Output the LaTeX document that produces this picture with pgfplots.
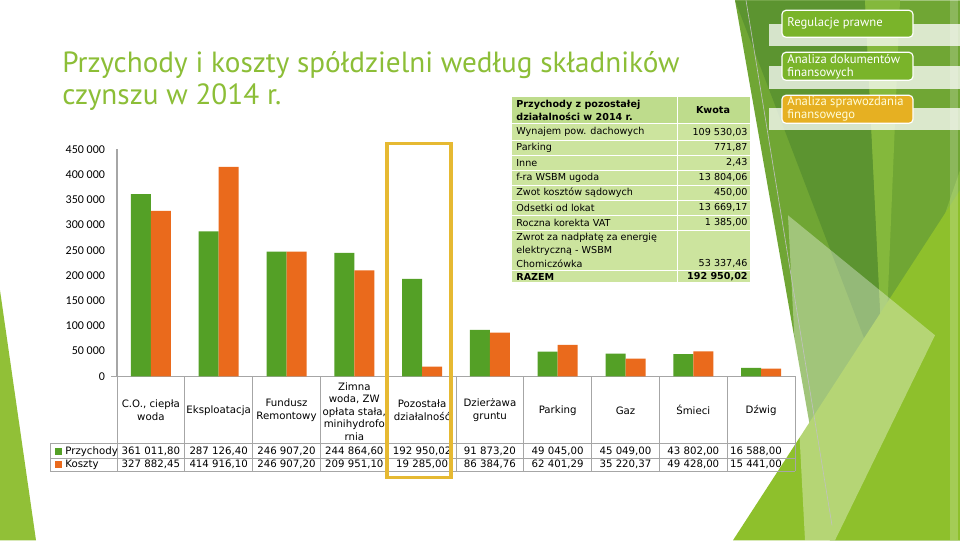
\documentclass[border=0pt]{standalone}
\usepackage{pgfplots}
\pgfplotsset{compat=1.18}
\usepackage{fontspec}
\setmainfont{DejaVu Sans}
\newfontfamily\titlefont{PT Sans}
\newfontfamily\tickfont{Carlito}
\definecolor{gbar}{RGB}{84,160,38}
\definecolor{obar}{RGB}{234,106,28}
\definecolor{ttl}{RGB}{140,190,55}
\definecolor{linec}{RGB}{166,166,166}
\definecolor{gold}{RGB}{230,185,50}
\definecolor{tabg}{RGB}{204,228,158}
\definecolor{tabh}{RGB}{190,220,140}
\definecolor{gD}{RGB}{92,148,48}
\definecolor{gM}{RGB}{112,166,52}
\definecolor{gL}{RGB}{132,184,60}
\definecolor{gB}{RGB}{142,192,44}
\definecolor{gLeft}{RGB}{145,192,55}
\definecolor{boxg}{RGB}{122,180,42}
\definecolor{boxo}{RGB}{230,176,34}
\begin{document}
\begin{tikzpicture}
\begin{scope}[x=0.5pt,y=-0.5pt,shift={(0pt,270pt)}]
\fill[white] (0,0) rectangle (960,540);
% left decoration
\fill[gLeft] (0,290) -- (36,540) -- (0,540) -- cycle;
% right decoration
\fill[gM] (735,0) -- (960,0) -- (960,540) -- (830,540) -- cycle;
\fill[gD] (735,0) -- (865,0) -- (884,390) -- cycle;
\fill[gL] (865,0) -- (900,0) -- (884,390) -- cycle;
\fill[gL] (884,390) -- (960,170) -- (960,540) -- cycle;
\fill[gB] (733,540) -- (960,190) -- (960,540) -- cycle;
\fill[white,opacity=0.35] (788,215) -- (935,335) -- (835,540) -- (805,540) -- cycle;
\fill[white,opacity=0.2] (950,0) -- (958,0) -- (958,540) -- (950,540) -- cycle;
\draw[linec!70,line width=0.3pt] (746,0) -- (832,525);
% title
\node[anchor=base west,inner sep=0pt,text=ttl,font=\titlefont\fontsize{14.6}{18}\selectfont] at (62,72) {Przychody i koszty spółdzielni według składników};
\node[anchor=base west,inner sep=0pt,text=ttl,font=\titlefont\fontsize{14.6}{18}\selectfont] at (62,104) {czynszu w 2014 r.};
\end{scope}

\begin{axis}[at={(58.5pt,82pt)},anchor=south west,scale only axis,
  width=339pt,height=113.5pt,
  xmin=-0.5,xmax=9.5,ymin=0,ymax=450000,
  ybar=0pt,bar width=10pt,clip=false,
  axis x line*=bottom,axis y line*=left,
  axis line style={linec,line width=0.6pt},
  xtick=\empty,
  ytick={0,50000,100000,150000,200000,250000,300000,350000,400000,450000},
  yticklabels={0,50 000,100 000,150 000,200 000,250 000,300 000,350 000,400 000,450 000},
  scaled y ticks=false,
  major tick length=0pt,
  yticklabel style={font=\tickfont\fontsize{6}{7}\selectfont,xshift=-2.5pt},
  ]
\addplot[fill=gbar,draw=none] coordinates {(0,361011.80) (1,287126.40) (2,246907.20) (3,244864.60) (4,192950.02) (5,91873.20) (6,49045.00) (7,45049.00) (8,43802.00) (9,16588.00)};
\addplot[fill=obar,draw=none] coordinates {(0,327882.45) (1,414916.10) (2,246907.20) (3,209951.10) (4,19285.00) (5,86384.76) (6,62401.29) (7,35220.37) (8,49428.00) (9,15441.00)};
\end{axis}

\begin{scope}[x=0.5pt,y=-0.5pt,shift={(0pt,270pt)}]
% data table below chart
\foreach \k in {0,...,10} {\draw[linec,line width=0.5pt] ({117+67.8*\k},376) -- ({117+67.8*\k},471);}
\draw[linec,line width=0.5pt] (111,376) -- (117,376);
\draw[linec,line width=0.5pt] (50,443) -- (795,443);
\draw[linec,line width=0.5pt] (50,458) -- (795,458);
\draw[linec,line width=0.5pt] (50,471) -- (795,471);
\draw[linec,line width=0.5pt] (50,443) -- (50,471);
\tikzset{nm/.style={align=center,inner sep=0pt,font=\fontsize{5.1}{6.25}\selectfont},
         vl/.style={inner sep=0pt,font=\fontsize{5.1}{6.2}\selectfont}}
\node[nm] at (150.9,410) {C.O., ciepła\\woda};
\node[nm] at (218.7,410) {Eksploatacja};
\node[nm] at (286.5,410) {Fundusz\\Remontowy};
\node[nm] at (354.3,411) {Zimna\\woda, ZW\\opłata stała,\\minihydrofo\\rnia};
\node[nm] at (422.1,410) {Pozostała\\działalność};
\node[nm] at (489.9,410) {Dzierżawa\\gruntu};
\node[nm] at (557.7,410) {Parking};
\node[nm] at (625.5,410) {Gaz};
\node[nm] at (693.3,410) {Śmieci};
\node[nm] at (761.1,410) {Dźwig};
% legend column
\fill[gbar] (55,447.5) rectangle (62,454.5);
\fill[obar] (55,461) rectangle (62,468);
\node[vl,anchor=west] at (65,451) {Przychody};
\node[vl,anchor=west] at (65,464.5) {Koszty};
% values
\node[vl] at (150.9,451) {361 011,80}; \node[vl] at (150.9,464.5) {327 882,45};
\node[vl] at (218.7,451) {287 126,40}; \node[vl] at (218.7,464.5) {414 916,10};
\node[vl] at (286.5,451) {246 907,20}; \node[vl] at (286.5,464.5) {246 907,20};
\node[vl] at (354.3,451) {244 864,60}; \node[vl] at (354.3,464.5) {209 951,10};
\node[vl] at (422.1,451) {192 950,02}; \node[vl] at (422.1,464.5) {19 285,00};
\node[vl] at (489.9,451) {91 873,20};  \node[vl] at (489.9,464.5) {86 384,76};
\node[vl] at (557.7,451) {49 045,00};  \node[vl] at (557.7,464.5) {62 401,29};
\node[vl] at (625.5,451) {45 049,00};  \node[vl] at (625.5,464.5) {35 220,37};
\node[vl] at (693.3,451) {43 802,00};  \node[vl] at (693.3,464.5) {49 428,00};
\node[vl] at (756.0,451) {16 588,00};  \node[vl] at (756.0,464.5) {15 441,00};
% gold highlight
\draw[gold,line width=1.6pt] (387,143) rectangle (451,477);
% inset table
\fill[tabg] (512,97) rectangle (750,282);
\fill[tabh] (512,97) rectangle (750,123);
\foreach \yy in {123,140,155,170,185,200,215,230,270} {\draw[white,line width=0.5pt] (512,\yy) -- (750,\yy);}
\draw[white,line width=0.5pt] (677,97) -- (677,282);
\tikzset{it/.style={inner sep=0pt,font=\fontsize{4.8}{6.2}\selectfont}}
\node[it,anchor=west,align=left,font=\bfseries\fontsize{4.8}{6.3}\selectfont] at (516,110) {Przychody z pozostałej\\działalności w 2014 r.};
\node[it,font=\bfseries\fontsize{4.8}{6.2}\selectfont] at (713,110) {Kwota};
\node[it,anchor=west] at (516,132) {Wynajem pow. dachowych};  \node[it,anchor=east] at (748,132) {109 530,03};
\node[it,anchor=west] at (516,147.5) {Parking};                \node[it,anchor=east] at (748,147.5) {771,87};
\node[it,anchor=west] at (516,162.5) {Inne};                   \node[it,anchor=east] at (748,162.5) {2,43};
\node[it,anchor=west] at (516,177.5) {f-ra WSBM ugoda};        \node[it,anchor=east] at (748,177.5) {13 804,06};
\node[it,anchor=west] at (516,192.5) {Zwot kosztów sądowych};  \node[it,anchor=east] at (748,192.5) {450,00};
\node[it,anchor=west] at (516,207.5) {Odsetki od lokat};       \node[it,anchor=east] at (748,207.5) {13 669,17};
\node[it,anchor=west] at (516,222.5) {Roczna korekta VAT};     \node[it,anchor=east] at (748,222.5) {1 385,00};
\node[it,anchor=west] at (516,238) {Zwrot za nadpłatę za energię};
\node[it,anchor=west] at (516,250.5) {elektryczną - WSBM};
\node[it,anchor=west] at (516,263) {Chomiczówka};             \node[it,anchor=east] at (748,263) {53 337,46};
\node[it,anchor=west,font=\bfseries\fontsize{4.8}{6.2}\selectfont] at (516,276.5) {RAZEM};
\node[it,anchor=east,font=\bfseries\fontsize{4.8}{6.2}\selectfont] at (748,276.5) {192 950,02};
% right boxes
\fill[white,opacity=0.75] (769,24) rectangle (960,46);
\fill[white,opacity=0.75] (769,66) rectangle (960,89);
\fill[white,opacity=0.75] (769,108) rectangle (960,130);
\draw[white,fill=boxg,rounded corners=2pt,line width=0.6pt] (782,10) rectangle (913,37);
\draw[white,fill=boxg,rounded corners=2pt,line width=0.6pt] (782,52) rectangle (913,80);
\draw[white,fill=boxo,rounded corners=2pt,line width=0.6pt] (782,95) rectangle (913,123);
\node[inner sep=0pt,anchor=west,text=white,font=\titlefont\fontsize{6.3}{6.5}\selectfont] at (787,23) {Regulacje prawne};
\node[inner sep=0pt,anchor=west,align=left,text=white,font=\titlefont\fontsize{6.3}{6.5}\selectfont] at (787,66.5) {Analiza dokumentów\\finansowych};
\node[inner sep=0pt,anchor=west,align=left,text=white!85!yellow,font=\titlefont\fontsize{6.3}{6.5}\selectfont] at (787,109) {Analiza sprawozdania\\finansowego};
\end{scope}
\end{tikzpicture}
\end{document}
